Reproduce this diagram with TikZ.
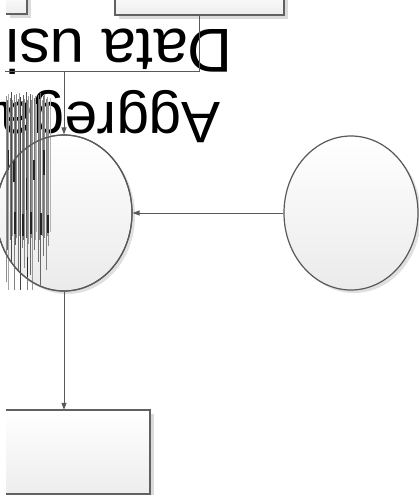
\documentclass[tikz,border=0pt]{standalone}
\usepackage{fontspec}
\setmainfont{Liberation Sans}
\usetikzlibrary{shapes.geometric,shadows,arrows.meta}

\begin{document}
\begin{tikzpicture}[x=1pt,y=-1pt,
  edge/.style={draw=black!65, line width=1pt},
  arr/.style={edge, -{Triangle[length=7pt,width=5pt]}},
  boxfill/.style={rectangle, inner sep=0pt, top color=white, bottom color=black!7,
    drop shadow={shadow xshift=4pt, shadow yshift=-4pt, fill=black!14, opacity=1}},
  rim/.style={draw=black!62, line width=1.6pt},
  bubble/.style={ellipse, draw=black!65, line width=1.2pt, inner sep=0pt,
    top color=white, bottom color=black!8,
    drop shadow={shadow xshift=3pt, shadow yshift=-3pt, fill=black!12, opacity=1}},
  bigtext/.style={rotate=180, inner sep=0pt, anchor=base west},
  streak/.style={line width=0.7pt}
]
\fill[white] (0,0) rectangle (419,495);
\useasboundingbox (0,0) rectangle (419,495);

% boxes
\node[boxfill, minimum width=21pt, minimum height=24pt] (topleftbox) at (16.5,2) {};
\node[boxfill, minimum width=169pt, minimum height=25pt] (topbox) at (199.5,2.5) {};
\node[boxfill, minimum width=144pt, minimum height=84pt] (bottombox) at (78,452) {};
\draw[rim] (topleftbox.north east) -- (topleftbox.south east) -- (topleftbox.south west);
\draw[rim] (topbox.north west) -- (topbox.south west) -- (topbox.south east) -- (topbox.north east);
\draw[rim] (bottombox.north west) -- (bottombox.north east) -- (bottombox.south east) -- (bottombox.south west);

% circles
\node[bubble, minimum width=136pt, minimum height=156pt] (leftcircle) at (64,213) {};
\node[bubble, minimum width=134pt, minimum height=154pt] (rightcircle) at (351,213) {};

% labels
\node[bigtext, font=\fontsize{62}{66}\selectfont] (datalabel) at (233,30) {Data usi};
\node[bigtext, font=\fontsize{58.5}{62}\selectfont] (agglabel) at (221,102) {Aggrega};

% connectors
\coordinate (bend) at (64,71);
\coordinate (loose) at (5,71);
\draw[arr] (topbox.south) |- (bend) -- (leftcircle.north);
\draw[edge] (bend) -- (loose);
\draw[arr] (rightcircle.west) -- (leftcircle.east);
\draw[arr] (leftcircle.south) -- (leftcircle.south |- bottombox.north);

% squeezed vertical streaks over the left circle
\foreach \x/\a/\b/\g in {6/96/282/45, 7/100/250/60, 8.5/94/290/35, 10/98/240/55,
  11/92/262/70, 12.5/100/236/40, 14/95/290/50, 15/102/245/65, 16.5/94/238/45,
  18/99/270/55, 19/93/236/40, 20.5/97/290/75, 22/101/248/50, 23/95/240/60,
  24.5/99/268/45, 26/92/238/65, 27/100/290/50, 28.5/96/244/40, 30/94/275/60,
  31/100/238/45, 32.5/95/290/40, 34/98/250/55, 35/96/240/35, 36.5/104/232/30,
  38/95/262/55, 39/99/240/45, 40.5/93/285/60, 42/100/236/40, 43/96/256/55,
  44.5/94/238/45, 46/99/270/50, 47/97/236/40, 48.5/102/246/45, 50/98/232/30}
  \draw[streak, black!\g] (\x,\a) -- (\x,\b);
\foreach \x/\a/\b/\w in {14/160/182/1.8, 34/160/180/1.8, 26/178/210/1.0, 44/150/175/1.2,
  15/212/234/2.5, 23/214/236/1.4, 31/212/234/1.6, 41/213/235/1.6, 48/215/233/1.2,
  8/150/170/1.0, 27.5/257/277/1.0}
  \draw[black!85, line width=\w pt] (\x,\a) -- (\x,\b);
\draw[draw=black!65, line width=1.2pt] (leftcircle.center) ellipse [x radius=68, y radius=78];
\end{tikzpicture}
\end{document}
